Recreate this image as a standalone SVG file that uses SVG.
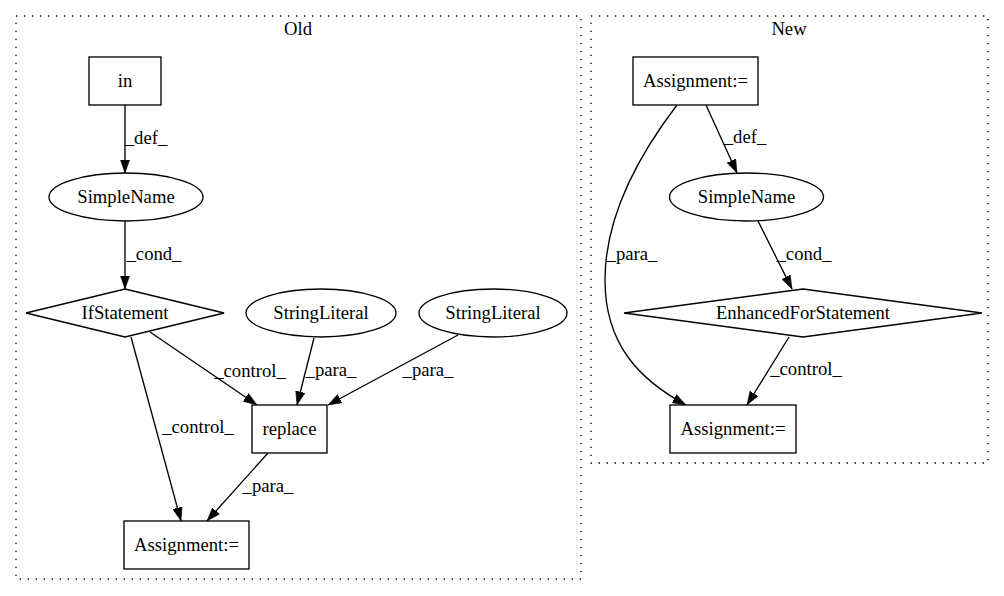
<svg xmlns="http://www.w3.org/2000/svg" width="1004" height="596" viewBox="0 0 1004 596" font-family="Liberation Serif, Times New Roman, DejaVu Serif, serif" font-size="18.67">
<defs>
<marker id="arr" viewBox="0 0 13.5 10" refX="13.5" refY="5" markerWidth="13.5" markerHeight="10" markerUnits="userSpaceOnUse" orient="auto">
<path d="M0,0.3 L13.3,5 L0,9.7 z" fill="#000" stroke="#000" stroke-width="0.6"/>
</marker>
</defs>
<style>
text{font-family:'Liberation Serif','Times New Roman','DejaVu Serif',serif;font-size:18.67px;fill:#000;text-anchor:middle}
.cl{fill:none;stroke:#000;stroke-width:1.33;stroke-dasharray:1.33,6.67}
.nd{fill:#fff;stroke:#000;stroke-width:1.33}
.ed path{fill:none;stroke:#000;stroke-width:1.33;marker-end:url(#arr)}
</style>
<rect width="1004" height="596" fill="#fff"/>
<g id="cluster_old">
<rect class="cl" x="16" y="16" width="565" height="563"/>
<text x="298" y="35">Old</text>
</g>
<g id="cluster_new">
<rect class="cl" x="591" y="16" width="397" height="447"/>
<text x="789" y="35">New</text>
</g>
<g id="connectors" class="ed">
<path d="M125,105 L125,173"/>
<path d="M125,221 L125,289"/>
<path d="M150,332 L257,405"/>
<path d="M131,337 L181,521"/>
<path d="M314,338 L297,405"/>
<path d="M458,335 L328,405"/>
<path d="M268,453 L207,521"/>
<path d="M706,105 L737,173"/>
<path d="M758,221 L792,289"/>
<path d="M789,337 L747,405"/>
<path d="M677,105 C635,160 605,220 605,280 C605,345 640,380 686,405"/>
</g>
<g id="edge_labels">
<text x="146" y="144">_def_</text>
<text x="154" y="260">_cond_</text>
<text x="250" y="377">_control_</text>
<text x="198" y="433">_control_</text>
<text x="331" y="376">_para_</text>
<text x="428" y="376">_para_</text>
<text x="268" y="492">_para_</text>
<text x="745" y="143">_def_</text>
<text x="804" y="260">_cond_</text>
<text x="806" y="375">_control_</text>
<text x="632" y="260">_para_</text>
</g>
<g id="old_in"><rect class="nd" x="89" y="57" width="72" height="48"/><text x="125" y="87">in</text></g>
<g id="old_simplename"><ellipse class="nd" cx="126" cy="197" rx="77" ry="24"/><text x="126" y="203">SimpleName</text></g>
<g id="old_if"><polygon class="nd" points="125,289 224,313 125,337 26,313"/><text x="125" y="319">IfStatement</text></g>
<g id="old_sl1"><ellipse class="nd" cx="321" cy="313" rx="75" ry="24"/><text x="321" y="319">StringLiteral</text></g>
<g id="old_sl2"><ellipse class="nd" cx="493" cy="313" rx="74" ry="24"/><text x="493" y="319">StringLiteral</text></g>
<g id="old_replace"><rect class="nd" x="252" y="405" width="75" height="48"/><text x="289.5" y="435">replace</text></g>
<g id="old_assign"><rect class="nd" x="124" y="521" width="125" height="48"/><text x="186.5" y="551">Assignment:=</text></g>
<g id="new_assign1"><rect class="nd" x="633" y="57" width="125" height="48"/><text x="695.5" y="87">Assignment:=</text></g>
<g id="new_simplename"><ellipse class="nd" cx="746.5" cy="197" rx="77" ry="24"/><text x="746.5" y="203">SimpleName</text></g>
<g id="new_for"><polygon class="nd" points="803,289 982,313 803,337 624,313"/><text x="803" y="319">EnhancedForStatement</text></g>
<g id="new_assign2"><rect class="nd" x="670" y="405" width="126" height="48"/><text x="733" y="435">Assignment:=</text></g>
</svg>
